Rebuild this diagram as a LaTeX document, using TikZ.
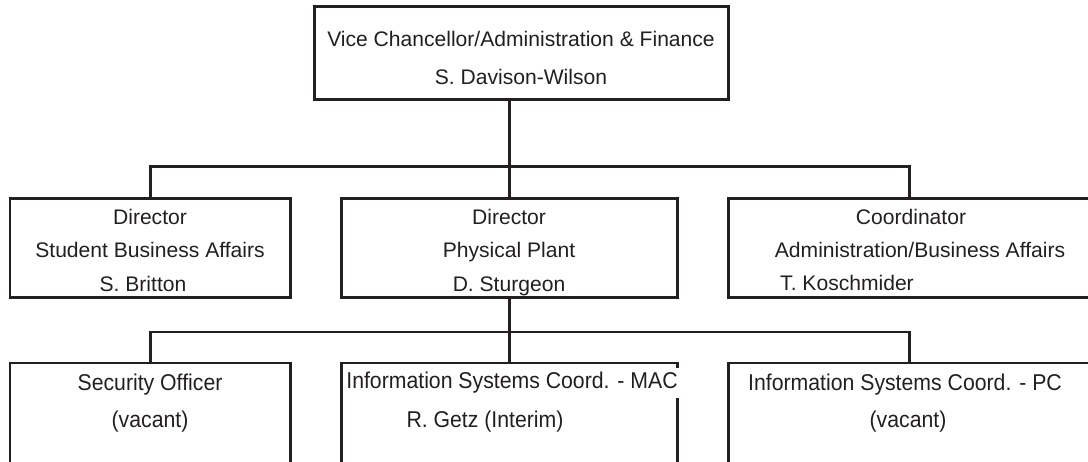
\documentclass[tikz,border=0pt]{standalone}
\usepackage{fontspec}
\setmainfont{Liberation Sans}
\newfontfamily\narrowfont[FakeStretch=0.93]{Liberation Sans}
\definecolor{ink}{HTML}{231F20}
\tikzset{
  box/.style={draw=ink, line width=0.06cm, inner sep=0pt, outer sep=0pt},
  boxsize/.style 2 args={minimum width=#1*0.02cm, minimum height=#2*0.02cm},
  link/.style={draw=ink, line width=0.06cm},
  txt/.style={text=ink, font=\fontsize{12}{14}\selectfont, inner sep=0pt, anchor=base},
  lowtxt/.style={text=ink, font=\narrowfont\fontsize{13}{15}\selectfont, inner sep=0pt, anchor=base}
}
\begin{document}
\begin{tikzpicture}[x=0.02cm, y=-0.02cm]
  \useasboundingbox (0,0) rectangle (1088,462);
  \clip (0,0) rectangle (1088,462);
  % Kaesten
  \node[box, boxsize={414}{93}] (vc) at (521,53.5) {};
  \node[box, boxsize={280}{99}] (sba) at (150,248.5) {};
  \node[box, boxsize={336}{99}] (pp) at (509,248.5) {};
  \node[box, boxsize={362}{99}] (abf) at (909,248.5) {};
  \node[box, boxsize={280}{120}] (sec) at (150,423) {};
  \node[box, boxsize={336}{120}] (mac) at (509,423) {};
  \node[box, boxsize={362}{120}] (pc) at (909,423) {};
  % Verbindungen
  \coordinate (bus1) at (509,167);
  \coordinate (bus2) at (509,332);
  \draw[link] (vc.south -| pp.north) -- (pp.north);
  \draw[link] (sba.north) -- (sba.north |- bus1) -- (abf.north |- bus1) -- (abf.north);
  \draw[link] (pp.south) -- (mac.north);
  \draw[link] (sec.north) -- (sec.north |- bus2) -- (pc.north |- bus2) -- (pc.north);
  % Texte oben
  \node[txt] (vc1) at (521,47) {Vice Chancellor/Administration \& Finance};
  \node[txt] (vc2) at (521,85) {S. Davison-Wilson};
  % Texte Mitte
  \node[txt] (sba1) at (150,225) {Director};
  \node[txt] (sba2) at (150,258) {Student Business Affairs};
  \node[txt] (sba3) at (143,292) {S. Britton};
  \node[txt] (pp1) at (509,225) {Director};
  \node[txt] (pp2) at (509,258) {Physical Plant};
  \node[txt] (pp3) at (509,292) {D. Sturgeon};
  \node[txt] (abf1) at (911,225) {Coordinator};
  \node[txt] (abf2) at (920,258) {Administration/Business Affairs};
  \node[txt] (abf3) at (847,291) {T. Koschmider};
  % Texte unten
  \node[lowtxt] (sec1) at (150,390) {Security Officer};
  \node[lowtxt] (sec2) at (150,427) {(vacant)};
  \node[lowtxt, fill=white, minimum width=338*0.02cm, minimum height=30*0.02cm, anchor=center] (mac1) at (512,383) {Information Systems Coord. - MAC};
  \node[lowtxt] (mac2) at (485,427) {R. Getz (Interim)};
  \node[lowtxt] (pc1) at (905,390) {Information Systems Coord. - PC};
  \node[lowtxt] (pc2) at (908,427) {(vacant)};
\end{tikzpicture}
\end{document}
